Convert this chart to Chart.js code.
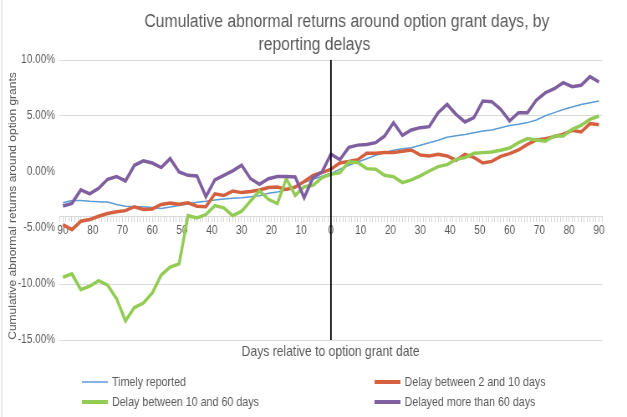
<!DOCTYPE html>
<html>
<head>
<meta charset="utf-8">
<script src="https://cdn.jsdelivr.net/npm/chart.js@4.4.1/dist/chart.umd.min.js"></script>
<style>
  html, body { margin: 0; padding: 0; background: #fff; overflow: hidden; }
  /* the original picture is horizontally squeezed: draw at 750 wide, show at 627 */
  #wrap { position: relative; width: 750px; height: 417px; transform: scaleX(0.836); transform-origin: 0 0; }
</style>
</head>
<body>
<div id="wrap"><canvas id="myChart"></canvas></div>
<script>
// days relative to grant date (sampled every 3 days)
const days = [
  -90, -87, -84, -81, -78, -75, -72, -69, -66, -63,
  -60, -57, -54, -51, -48, -45, -42, -39, -36, -33,
  -30, -27, -24, -21, -18, -15, -12, -9, -6, -3,
  0, 3, 6, 9, 12, 15, 18, 21, 24, 27,
  30, 33, 36, 39, 42, 45, 48, 51, 54, 57,
  60, 63, 66, 69, 72, 75, 78, 81, 84, 87,
  90
];

// cumulative abnormal returns, in %
const timely = [
  -2.74, -2.55, -2.55, -2.62, -2.66, -2.68, -2.9, -3.05, -3.1, -3.1,
  -3.18, -3.25, -3.12, -3.0, -2.85, -2.7, -2.62, -2.5, -2.42, -2.35,
  -2.3, -2.22, -2.12, -1.9, -1.78, -1.6, -1.25, -0.95, -0.65, -0.38,
  -0.12, 0.24, 0.6, 0.9, 1.19, 1.5, 1.72, 1.94, 2.08, 2.16,
  2.38, 2.62, 2.83, 3.1, 3.24, 3.34, 3.5, 3.66, 3.76, 3.96,
  4.15, 4.26, 4.41, 4.65, 5.02, 5.3, 5.58, 5.8, 6.02, 6.19,
  6.34
];
const delay2to10 = [
  -4.7, -5.15, -4.4, -4.25, -3.95, -3.7, -3.55, -3.45, -3.1, -3.35,
  -3.3, -2.9, -2.78, -2.88, -2.75, -3.05, -3.1, -1.95, -2.1, -1.7,
  -1.84, -1.75, -1.6, -1.38, -1.35, -1.55, -1.35, -0.85, -0.3, -0.05,
  0.25, 0.8, 0.95, 1.1, 1.67, 1.67, 1.73, 1.73, 1.85, 1.97,
  1.52, 1.43, 1.58, 1.43, 1.05, 1.58, 1.3, 0.8, 0.95, 1.4,
  1.64, 1.97, 2.47, 2.86, 2.98, 3.16, 3.37, 3.72, 3.57, 4.32,
  4.22
];
const delay10to60 = [
  -9.4, -9.1, -10.5, -10.2, -9.7, -10.1, -11.3, -13.3, -12.1, -11.7,
  -10.8, -9.2, -8.5, -8.2, -3.9, -4.1, -3.8, -3.0, -3.2, -3.9,
  -3.5, -2.59, -1.69, -2.44, -2.82, -0.59, -2.08, -1.31, -1.19, -0.5,
  -0.2, -0.06, 0.9, 0.84, 0.3, 0.24, -0.3, -0.42, -0.95, -0.71,
  -0.35, 0.09, 0.48, 0.66, 1.13, 1.28, 1.67, 1.73, 1.79, 1.94,
  2.14, 2.62, 2.98, 2.86, 2.74, 3.22, 3.22, 3.81, 4.17, 4.7,
  5.0
];
const delayedOver60 = [
  -3.03, -2.8, -1.6, -1.95, -1.45, -0.65, -0.4, -0.8, 0.6, 1.0,
  0.8, 0.4, 1.2, 0.0, -0.3, -0.35, -2.2, -0.7, -0.3, 0.1,
  0.6, -0.6, -1.1, -0.6, -0.4, -0.4, -0.45, -2.3, -0.5, 0.0,
  1.6, 1.1, 2.2, 2.4, 2.45, 2.62, 3.21, 4.4, 3.27, 3.75,
  3.96, 4.05, 5.3, 6.04, 5.15, 4.47, 4.85, 6.34, 6.28, 5.6,
  4.56, 5.3, 5.3, 6.43, 7.08, 7.44, 7.98, 7.62, 7.74, 8.51,
  8.04
];

const seriesNames = [
  "Timely reported",
  "Delay between 2 and 10 days",
  "Delay between 10 and 60 days",
  "Delayed more than 60 days"
];
const seriesColors = ["#5B9BD5", "#D5603F", "#92CC55", "#7F5FA0"];
const seriesWidths = [1.5, 3.5, 3.5, 3.5];

const grantDay = 0;
const yRange = [-15, 10];
const axisCross = -4;

const titleLines = ["Cumulative abnormal returns around option grant days, by", "reporting delays"];
const xTitle = "Days relative to option grant date";
const yTitle = "Cumulative abnormal returns around option grants";

const FONT = "'Liberation Sans', Arial, sans-serif";
const TEXT = "#595959";

function toPoints(values) {
  return days.map((d, i) => ({ x: d, y: values[i] }));
}

const allSeries = [timely, delay2to10, delay10to60, delayedOver60];

// draws title, axis titles and the two-column legend (x in 750-wide units)
const chartText = {
  id: "chartText",
  afterDraw(chart) {
    const { ctx, chartArea: a } = chart;
    ctx.save();
    ctx.fillStyle = TEXT;
    ctx.textBaseline = "middle";
    ctx.textAlign = "center";

    ctx.font = "18.8px " + FONT;
    ctx.fillText(titleLines[0], 415, 22);
    ctx.fillText(titleLines[1], 376, 45);

    ctx.font = "14.5px " + FONT;
    ctx.fillText(xTitle, (a.left + a.right) / 2, 352);

    ctx.save();
    ctx.translate(15.5, (a.top + a.bottom) / 2 + 6);
    ctx.rotate(-Math.PI / 2);
    ctx.font = "12px " + FONT;
    ctx.fillText(yTitle, 0, 0);
    ctx.restore();

    // legend
    const cols = [98, 448];
    const rows = [382, 402];
    ctx.textAlign = "left";
    ctx.font = "12.8px " + FONT;
    seriesNames.forEach((name, i) => {
      const x = cols[i % 2];
      const y = rows[Math.floor(i / 2)];
      ctx.strokeStyle = seriesColors[i];
      ctx.lineWidth = i === 0 ? 1.5 : 4;
      ctx.beginPath();
      ctx.moveTo(x, y);
      ctx.lineTo(x + 31, y);
      ctx.stroke();
      ctx.fillStyle = TEXT;
      ctx.fillText(name, x + 36, y);
    });

    // chart frame (left edge)
    ctx.strokeStyle = "#d9d9d9";
    ctx.lineWidth = 1.2;
    ctx.beginPath();
    ctx.moveTo(2, 0);
    ctx.lineTo(2, 417);
    ctx.stroke();
    ctx.restore();
  }
};

const datasets = allSeries.map((vals, i) => ({
  label: seriesNames[i],
  data: toPoints(vals),
  borderColor: seriesColors[i],
  borderWidth: seriesWidths[i],
  pointRadius: 0,
  tension: 0,
  fill: false,
  order: 3 - i
}));

datasets.push({
  label: "grant day",
  data: [{ x: grantDay, y: yRange[0] }, { x: grantDay, y: yRange[1] }],
  borderColor: "#000",
  borderWidth: 1.8,
  pointRadius: 0,
  order: -1
});

new Chart(document.getElementById("myChart").getContext("2d"), {
  type: "line",
  data: { datasets },
  options: {
    responsive: true,
    maintainAspectRatio: false,
    animation: false,
    layout: { padding: { left: 0, right: 30, top: 60, bottom: 77 } },
    plugins: {
      legend: { display: false },
      title: { display: false },
      tooltip: { enabled: false }
    },
    scales: {
      x: {
        type: "linear",
        position: { y: axisCross },
        min: -91.2,
        max: 91,
        ticks: {
          stepSize: 1,
          autoSkip: false,
          includeBounds: false,
          maxRotation: 0,
          padding: 2,
          color: TEXT,
          font: { family: FONT, size: 12 },
          callback: v => (v % 10 === 0 ? String(Math.abs(v)) : "")
        },
        grid: { drawOnChartArea: false, drawTicks: true, tickLength: 5, color: "#d6d6d6" },
        border: { display: true, color: "#d9d9d9" }
      },
      y: {
        min: yRange[0],
        max: yRange[1],
        afterFit: s => { s.width = 71; },
        ticks: {
          stepSize: 5,
          padding: 5,
          color: TEXT,
          font: { family: FONT, size: 12 },
          callback: v => v.toFixed(2) + "%"
        },
        grid: {
          drawTicks: false,
          color: c => (c.tick && (c.tick.value === 0 || c.tick.value === -5) ? "rgba(0,0,0,0)" : "#d9d9d9")
        },
        border: { display: false }
      }
    }
  },
  plugins: [chartText]
});
</script>
</body>
</html>
